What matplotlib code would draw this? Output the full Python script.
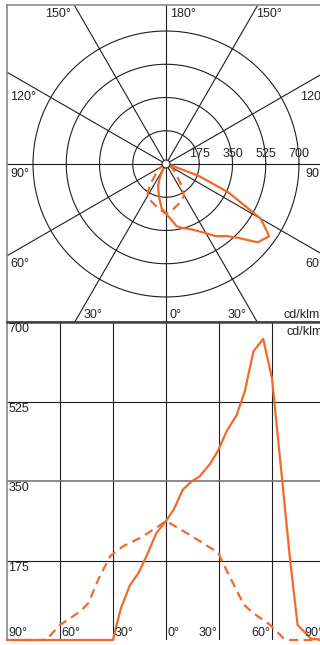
import numpy as np
import matplotlib
matplotlib.use("Agg")
import matplotlib.pyplot as plt

plt.rcParams["font.family"] = ["Liberation Sans", "DejaVu Sans"]

# luminous intensity curves (cd/klm), angle in degrees from nadir
solid_angles = [-90, -30, -28, -25.5, -20.5, -15.5, -11, -5.5, 0, 4.5, 9.5, 14.5, 19,
                25, 29.5, 34.5, 40, 44.5, 49.5, 55, 60, 65.5, 70, 74.5, 82, 90]
solid_values = [0, 0, 33, 70, 120, 148, 185, 235, 262, 288, 331, 349, 360,
                388, 417, 461, 495, 546, 635, 663, 576, 362, 185, 33, 3, 0]

dashed_angles = [-90, -70, -67, -60, -48.5, -44, -37.5, -31.5, -24, -14.5, -5.5, 0,
                 8, 19, 29.5, 36, 44, 49.5, 59, 66.5, 70, 90]
dashed_values = [0, 0, 4, 33, 63, 81, 140, 185, 207, 225, 247, 262,
                 244, 218, 192, 140, 78, 59, 33, 4, 0, 0]

rings = [175, 350, 525, 700]
ray_angles = [0, 30, 60, 90, 120, 150]
lin_xticks = [-90, -60, -30, 0, 30, 60, 90]

orange = "#f26a2a"
grid = "#1e1e1e"
frame = "#8a8a8a"
fs = 9

W, H = 320, 645
fig = plt.figure(figsize=(W / 100, H / 100), dpi=100)

# ---- polar diagram (drawn on cartesian axes) ----
cx, cy, rpx = 166, 164, 133  # center and 700-ring radius in pixels
k = 700 / rpx


def px(x, y):
    return (x - cx) * k, (cy - y) * k


left, top, right, bottom = 7, 5, 325, 322
ax1 = fig.add_axes([left / W, 1 - bottom / H, (right - left) / W, (bottom - top) / H])
x0, y1 = px(left, top)
x1, y0 = px(right, bottom)
ax1.set_xlim(x0, x1)
ax1.set_ylim(y0, y1)
ax1.set_xticks([])
ax1.set_yticks([])
for s in ["left", "top"]:
    ax1.spines[s].set_color(frame)
    ax1.spines[s].set_linewidth(1.2)
ax1.spines["right"].set_visible(False)
ax1.spines["bottom"].set_color("#444444")
ax1.spines["bottom"].set_linewidth(1.8)

t = np.linspace(0, 2 * np.pi, 400)
for r in rings:
    ax1.plot(r * np.cos(t), r * np.sin(t), color=grid, lw=0.8)
for a in ray_angles:
    th = np.radians(a)
    ax1.plot([-2000 * np.sin(th), 2000 * np.sin(th)],
             [2000 * np.cos(th), -2000 * np.cos(th)], color=grid, lw=0.8)

for ang, val, ls in [(solid_angles, solid_values, "-"), (dashed_angles, dashed_values, (0, (4, 2.5)))]:
    th = np.radians(ang)
    v = np.array(val)
    ax1.plot(v * np.sin(th), -v * np.cos(th), color=orange, lw=1.6, ls=ls)

ax1.add_patch(plt.Circle((0, 0), 4 * k, facecolor="white", edgecolor=grid, lw=0.8, zorder=5))

for r in rings:
    ax1.text(r, 8 * k / 2, str(r), ha="center", va="bottom", fontsize=fs, color="#222")

polar_labels = [
    ("150°", 45, 14, "left"), ("180°", 170, 14, "left"), ("150°", 256, 14, "left"),
    ("120°", 10, 97, "left"), ("120°", 300, 97, "left"),
    ("90°", 10, 174, "left"), ("90°", 305, 174, "left"),
    ("60°", 10, 264, "left"), ("60°", 305, 264, "left"),
    ("30°", 84, 315, "left"), ("0°", 170, 315, "left"), ("30°", 228, 315, "left"),
    ("cd/klm", 283, 315, "left"),
]
for txt, x, y, ha in polar_labels:
    dx, dy = px(x, y)
    ax1.text(dx, dy, txt, ha=ha, va="center", fontsize=fs, color="#222")

# ---- linear diagram ----
top2, bottom2 = 322, 640
ax2 = fig.add_axes([left / W, 1 - bottom2 / H, (right - left) / W, (bottom2 - top2) / H])
ax2.set_xlim(-90, 90)
ax2.set_ylim(0, 700)
ax2.set_xticks([])
ax2.set_yticks([])
ax2.spines["left"].set_color(frame)
ax2.spines["left"].set_linewidth(1.2)
ax2.spines["right"].set_visible(False)
ax2.spines["top"].set_color("#444444")
ax2.spines["top"].set_linewidth(1.8)
ax2.spines["bottom"].set_visible(False)

for xv in lin_xticks[1:-1]:
    ax2.axvline(xv, color=grid, lw=0.8)
for yv in rings[:-1]:
    ax2.axhline(yv, color="#777777" if yv == 350 else grid, lw=1.2 if yv == 350 else 0.8)

ax2.plot(solid_angles, solid_values, color=orange, lw=1.6, clip_on=False)
ax2.plot(dashed_angles, dashed_values, color=orange, lw=1.6, ls=(0, (4, 2.5)), clip_on=False)

for yv in rings:
    ax2.annotate(str(yv), (-90, yv), xytext=(1, -1), textcoords="offset points",
                 ha="left", va="top", fontsize=fs, color="#222")
ax2.annotate("cd/klm", (68, 700), xytext=(0, -3), textcoords="offset points",
             ha="left", va="top", fontsize=fs, color="#222")

for xv in lin_xticks:
    lab = f"{abs(xv)}°"
    if xv <= 0:
        ax2.annotate(lab, (xv, 0), xytext=(1, 1), textcoords="offset points",
                     ha="left", va="bottom", fontsize=fs, color="#222")
    else:
        ax2.annotate(lab, (xv, 0), xytext=(-1, 1), textcoords="offset points",
                     ha="right", va="bottom", fontsize=fs, color="#222")

fig.savefig("out.png", dpi=100)
